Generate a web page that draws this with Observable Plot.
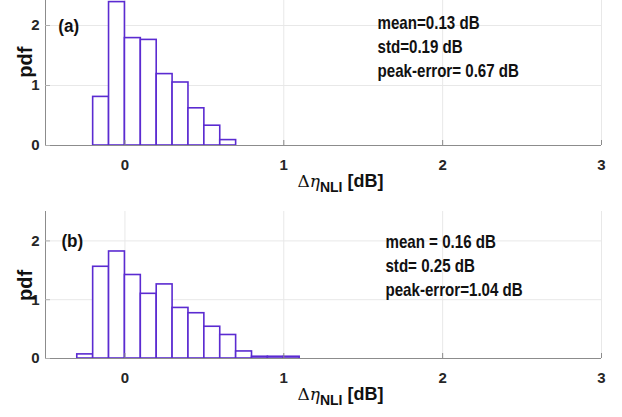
<!DOCTYPE html>
<html><head><meta charset="utf-8">
<script src="https://cdn.jsdelivr.net/npm/d3@7"></script>
<script src="https://cdn.jsdelivr.net/npm/@observablehq/plot@0.6"></script>
<style>
body{margin:0;background:#fff;}
#a{height:200px;overflow:hidden;}
#a svg{margin-top:-5px;display:block;}
#b{height:217px;overflow:hidden;}
#b svg{display:block;}
</style></head><body>
<div id="a"></div><div id="b"></div>
<script>
// ---- data ----
const xTicks = [0, 1, 2, 3];
const yTicks = [0, 1, 2];
const aEdges = [-0.2, -0.1, 0, 0.1, 0.2, 0.3, 0.4, 0.5, 0.6, 0.7];
const aPdf   = [0.81, 2.39, 1.79, 1.76, 1.19, 1.05, 0.62, 0.33, 0.09];
const aStats = ["mean=0.13 dB", "std=0.19 dB", "peak-error= 0.67 dB"];
const bEdges = [-0.3, -0.2, -0.1, 0, 0.1, 0.2, 0.3, 0.4, 0.5, 0.6, 0.7, 0.8, 0.9, 1.0, 1.1];
const bPdf   = [0.07, 1.56, 1.82, 1.42, 1.10, 1.26, 0.86, 0.77, 0.54, 0.40, 0.12, 0.03, 0.03, 0.03];
const bStats = ["mean = 0.16 dB", "std= 0.25 dB", "peak-error=1.04 dB"];
const panelNames = ["(a)", "(b)"];
const yLabel = "pdf";
const xLabelParts = {delta: "Δ", eta: "η", sub: "NLI", unit: " [dB]"};

const FONT = '"Liberation Sans", Arial, sans-serif';
const BAR = "#5b2bd1";
const AXIS = "#8c8c8c";
const GRID = "#e8e8e8";
const fmt = d => String(d);

function squeeze(svg, cls, k) {
  svg.selectAll("." + cls + " text").each(function() {
    const tr = this.getAttribute("transform") || "";
    this.setAttribute("transform", tr + ` scale(${k},1)`);
  });
}

function panel(el, edges, pdf, stats, name, o) {
  const bars = pdf.map((v, i) => ({x1: edges[i], x2: edges[i + 1], y: v}));
  const plot = Plot.plot({
    width: 622, height: o.height,
    marginLeft: 45, marginRight: 21, marginTop: o.mt, marginBottom: o.mb,
    style: {fontFamily: FONT, background: "white", color: "#262626"},
    x: {domain: [-0.5, 3]},
    y: {domain: [0, 2.5]},
    marks: [
      Plot.gridX(xTicks, {stroke: GRID, strokeOpacity: 1}),
      Plot.gridY(yTicks.filter(d => d > 0), {stroke: GRID, strokeOpacity: 1}),
      Plot.rectY(bars, {x1: "x1", x2: "x2", y: "y", fill: "white", stroke: BAR, strokeWidth: 1.6}),
      Plot.ruleY([0], {stroke: AXIS}),
      Plot.ruleX([-0.5], {stroke: AXIS}),
      Plot.axisX(xTicks, {tickSize: 0, tickPadding: 14, fontSize: 15, fontWeight: "bold", label: null, tickFormat: fmt, className: "tk"}),
      Plot.axisX(xTicks, {tickSize: 5, dy: -5, tickFormat: () => "", label: null, stroke: AXIS}),
      Plot.axisY(yTicks, {tickSize: 0, tickPadding: 6, fontSize: 15, fontWeight: "bold", label: null, tickFormat: fmt, className: "tk"}),
      Plot.axisY(yTicks, {tickSize: 5, dx: 5, tickFormat: () => "", label: null, stroke: "#b0b0b0"}),
      Plot.text([stats.join("\n")], {x: o.sx, y: o.sy, text: d => d, textAnchor: "start", lineAnchor: "middle", lineHeight: 1.33, fontSize: 18, fontWeight: "bold", fill: "#111", className: "stats"}),
      Plot.text([name], {x: o.nx, y: 2.0, text: d => d, textAnchor: "start", fontSize: 19, fontWeight: "bold", fill: "#111", className: "pname"}),
      Plot.text([yLabel], {frameAnchor: "left", y: o.py, text: d => d, rotate: -90, dx: -20, fontSize: 20, fontWeight: "bold", fill: "#111"})
    ]
  });
  const svg = d3.select(plot);
  squeeze(svg, "stats", 0.84);
  squeeze(svg, "pname", 0.9);
  const sx = plot.scale("x"), sy = plot.scale("y");
  const t = svg.append("text")
    .attr("x", sx.apply(1.36)).attr("y", sy.apply(0) + 42)
    .attr("text-anchor", "middle").attr("fill", "#111")
    .style("font-size", "18px").style("font-family", FONT);
  t.append("tspan").text(xLabelParts.delta).style("font-family", '"DejaVu Serif", serif').style("font-size", "17px");
  t.append("tspan").text(xLabelParts.eta).style("font-family", '"DejaVu Serif", serif').style("font-style", "italic").style("font-size", "17px");
  t.append("tspan").text(xLabelParts.sub).attr("dy", 5).style("font-size", "14px").style("font-weight", "bold");
  t.append("tspan").text(xLabelParts.unit).attr("dy", -5).style("font-weight", "bold");
  document.getElementById(el).appendChild(plot);
}

panel("a", aEdges, aPdf, aStats, panelNames[0], {height: 205, mt: 0, mb: 55, sx: 1.59, sy: 1.67, nx: -0.42, py: 1.13});
panel("b", bEdges, bPdf, bStats, panelNames[1], {height: 217, mt: 11, mb: 59, sx: 1.64, sy: 1.6, nx: -0.40, py: 0.98});
</script></body></html>
